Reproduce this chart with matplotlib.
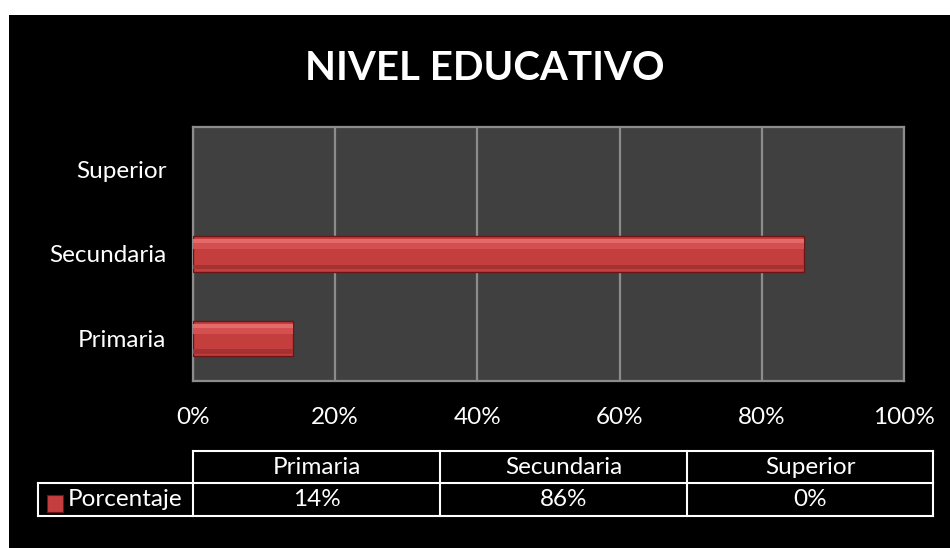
import numpy as np
import matplotlib.pyplot as plt
from matplotlib.patches import Rectangle

# chart data
categories = ["Primaria", "Secundaria", "Superior"]
values = [14, 86, 0]
series_name = "Porcentaje"
xticks = [0, 20, 40, 60, 80, 100]
title = "NIVEL EDUCATIVO"

W, H = 950, 548
plt.rcParams['font.family'] = ['Lato', 'DejaVu Sans']
FS = 17.5

fig = plt.figure(figsize=(W / 100, H / 100), dpi=100, facecolor="white")

def fx(px):
    return px / W

def fy(py):
    return 1 - py / H

# black chart background
fig.add_artist(Rectangle((fx(9), 0), 1 - fx(9), fy(15), transform=fig.transFigure,
                         facecolor="black", edgecolor="none", zorder=-10))

fig.text(fx(485), fy(68), title, color="white", fontsize=29, fontweight="bold",
         ha="center", va="center")

ax = fig.add_axes([fx(193), fy(381), fx(904) - fx(193), fy(127) - fy(381)])
ax.set_zorder(2)
ax.set_facecolor("#404040")
grid_col = "#8c8c8c"

y = np.arange(len(categories))
bh = 0.42
edges = ["#6e1414" if v > 0 else "none" for v in values]
ax.barh(y, values, height=bh, color="#c43e3e", edgecolor=edges, linewidth=1.0, zorder=3)
# bevel shading
ax.barh(y + bh * 0.36, values, height=bh * 0.12, color="#e46a6a", linewidth=0, zorder=4)
ax.barh(y + bh * 0.22, values, height=bh * 0.16, color="#d45050", linewidth=0, zorder=4)
ax.barh(y - bh * 0.36, values, height=bh * 0.12, color="#a53232", linewidth=0, zorder=4)

ax.set_xlim(0, 100)
ax.set_ylim(-0.5, len(categories) - 0.5)
ax.set_xticks(xticks)
ax.set_xticklabels([f"{t}%" for t in xticks])
ax.set_yticks(y)
ax.set_yticklabels(categories)
ax.tick_params(axis="both", length=0, colors="white", labelsize=FS)
ax.tick_params(axis="x", pad=19)
ax.tick_params(axis="y", pad=19)
ax.grid(axis="x", color=grid_col, linewidth=1.6, zorder=1)
for s in ax.spines.values():
    s.set_color(grid_col)
    s.set_linewidth(1.6)

# data table below the chart
col_edges = [193, 440, 687, 933]
row_top, row_mid, row_bot = 451, 483, 516
lab_left = 38
lc = "white"
lw = 1.5

def hline(x0, x1, yy):
    fig.add_artist(plt.Line2D([fx(x0), fx(x1)], [fy(yy), fy(yy)], color=lc, lw=lw,
                              transform=fig.transFigure))

def vline(xx, y0, y1):
    fig.add_artist(plt.Line2D([fx(xx), fx(xx)], [fy(y0), fy(y1)], color=lc, lw=lw,
                              transform=fig.transFigure))

hline(col_edges[0], col_edges[-1], row_top)
hline(lab_left, col_edges[-1], row_mid)
hline(lab_left, col_edges[-1], row_bot)
vline(lab_left, row_mid, row_bot)
for e in col_edges:
    vline(e, row_top, row_bot)

for i, (cat, v) in enumerate(zip(categories, values)):
    cx = (col_edges[i] + col_edges[i + 1]) / 2
    fig.text(fx(cx), fy((row_top + row_mid) / 2), cat, color="white", fontsize=FS,
             ha="center", va="center")
    fig.text(fx(cx), fy((row_mid + row_bot) / 2), f"{v}%", color="white", fontsize=FS,
             ha="center", va="center")

# legend key
fig.add_artist(Rectangle((fx(47), fy(512)), fx(63) - fx(47), fy(495) - fy(512),
                         transform=fig.transFigure, facecolor="#c43e3e",
                         edgecolor="#6e1414", lw=0.8))
fig.text(fx(68), fy((row_mid + row_bot) / 2), series_name, color="white", fontsize=FS,
         ha="left", va="center")

fig.savefig("out.png", dpi=100, facecolor="white")
